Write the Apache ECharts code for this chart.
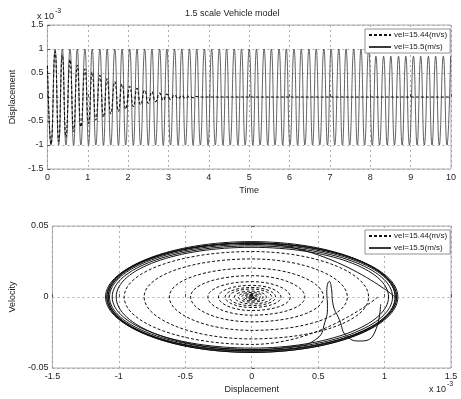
<!DOCTYPE html>
<html>
<head>
<meta charset="utf-8">
<script src="https://cdn.jsdelivr.net/npm/echarts@6/dist/echarts.min.js"></script>
<style>
  html, body { margin: 0; padding: 0; background: #fff; }
  #chart { width: 461px; height: 399px; }
</style>
</head>
<body>
<div id="chart"></div>
<script>
// top panel: times of the turning points (s), displacement in units of 1e-3
const tTop = [
  0.00, 0.09, 0.19, 0.28, 0.37, 0.46, 0.56, 0.65, 0.74, 0.83,
  0.93, 1.02, 1.11, 1.20, 1.30, 1.39, 1.48, 1.57, 1.67, 1.76,
  1.85, 1.94, 2.04, 2.13, 2.22, 2.31, 2.41, 2.50, 2.59, 2.68,
  2.78, 2.87, 2.96, 3.05, 3.15, 3.24, 3.33, 3.42, 3.52, 3.61,
  3.70, 3.79, 3.89, 3.98, 4.07, 4.16, 4.26, 4.35, 4.44, 4.53,
  4.63, 4.72, 4.81, 4.90, 5.00, 5.09, 5.18, 5.27, 5.37, 5.46,
  5.55, 5.64, 5.74, 5.83, 5.92, 6.01, 6.11, 6.20, 6.29, 6.38,
  6.48, 6.57, 6.66, 6.75, 6.85, 6.94, 7.03, 7.12, 7.22, 7.31,
  7.40, 7.49, 7.59, 7.68, 7.77, 7.86, 7.96, 8.05, 8.14, 8.23,
  8.33, 8.42, 8.51, 8.60, 8.70, 8.79, 8.88, 8.97, 9.07, 9.16,
  9.25, 9.34, 9.44, 9.53, 9.62, 9.71, 9.81, 9.90, 9.99
];
// vel=15.5 : sustained oscillation
const dispSolid = [
  0.65,
  -1, 1, -1, 1, -1, 1, -1, 1, -1, 1,
  -1, 1, -1, 1, -1, 1, -1, 1, -1, 1,
  -1, 1, -1, 1, -1, 1, -1, 1, -1, 1,
  -1, 1, -1, 1, -1, 1, -1, 1, -1, 1,
  -1, 1, -1, 1, -1, 1, -1, 1, -1, 1,
  -1, 1, -1, 1, -1, 1, -1, 1, -1, 1,
  -1, 1, -1, 1, -1, 1, -1, 1, -1, 1,
  -1, 1, -1, 1, -1, 1, -1, 1, -1, 1,
  -1, 1, -1, 1, -1, 1,
  -1, 0.85, -1, 0.85, -1, 0.85, -1, 0.85, -1, 0.85, -1,
  0.85, -1, 0.85, -1, 0.85, -1, 0.85, -1, 0.85, -1, 0.85
];
// vel=15.44 : decaying oscillation, then flat at 0
const dispDash = [
  0.65, -0.98, 0.95, -0.92, 0.88, -0.84, 0.78, -0.72, 0.66, -0.62,
  0.58, -0.55, 0.52, -0.48, 0.45, -0.42, 0.38, -0.35, 0.32, -0.30,
  0.27, -0.25, 0.22, -0.20, 0.18, -0.16, 0.14, -0.13, 0.11, -0.10,
  0.08, -0.07, 0.06, -0.05, 0.04, -0.035, 0.03, -0.025, 0.02, -0.015,
  0.01, 0
];

// bottom panel: phase plane, displacement (1e-3) and velocity
const phaseSolidX = [
  0.97, 0.93, 0.82, 0.72, 0.66, 0.61, 0.60, 0.585, 0.565, 0.57,
  0.55, 0.48, 0.30, 0,
  -1.02, 0, 1.03, 0, -1.05, 0, 1.06, 0, -1.07, 0, 1.08, 0,
  -1.08, 0, 1.09, 0, -1.09, 0, 1.08, 0, -1.10, 0, 1.09, 0,
  -1.08, 0, 1.10, 0, -1.09, 0, 1.08
];
const phaseSolidV = [
  -0.005, -0.024, -0.031, -0.028, -0.016, -0.004, 0.006, 0.011, 0.004, -0.006,
  -0.018, -0.030, -0.035, -0.037,
  0, 0.035, 0, -0.036, 0, 0.036, 0, -0.037, 0, 0.037, 0, -0.038,
  0, 0.038, 0, -0.038, 0, 0.039, 0, -0.038, 0, 0.038, 0, -0.039,
  0, 0.038, 0, -0.039, 0, 0.038, 0
];
const phaseDashX = [
  0.95, 0, -0.96, 0, 0.88, 0, -0.81, 0, 0.72, 0, -0.62, 0, 0.54, 0,
  -0.46, 0, 0.40, 0, -0.33, 0, 0.29, 0, -0.25, 0, 0.22, 0, -0.20, 0,
  0.18, 0, -0.17, 0, 0.15, 0, -0.13, 0, 0.11, 0, -0.10, 0, 0.085, 0,
  -0.075, 0, 0.065, 0, -0.055, 0, 0.045, 0, -0.04, 0, 0.035, 0,
  -0.03, 0, 0.025, 0, -0.02, 0, 0.016, 0, -0.012, 0, 0.01, 0,
  -0.008, 0, 0.005, 0, -0.003, 0, 0
];
const phaseDashV = [
  0, -0.0334, 0, 0.032, 0, -0.0295, 0, 0.0268, 0, -0.0235, 0, 0.0203, 0, -0.0175,
  0, 0.015, 0, -0.0128, 0, 0.0108, 0, -0.0095, 0, 0.0082, 0, -0.0074, 0, 0.0067,
  0, -0.0061, 0, 0.0056, 0, -0.0049, 0, 0.0042, 0, -0.0037, 0, 0.0032, 0, -0.0028,
  0, 0.0024, 0, -0.0021, 0, 0.0018, 0, -0.0015, 0, 0.0013, 0,
  -0.0011, 0, 0.001, 0, -0.0008, 0, 0.0006, 0, -0.0005, 0, 0.0004, 0,
  -0.0003, 0, 0.0002, 0, -0.0001, 0, 0.00005, 0
];

const names = ["vel=15.44(m/s)", "vel=15.5(m/s)"];
const font = "Liberation Sans, Arial, sans-serif";

const chart = echarts.init(document.getElementById("chart"));

const gridLine = { show: true, lineStyle: { color: "#8c8c8c", type: [2, 3], width: 0.7 } };
const tick = { show: true, inside: true, length: 3, lineStyle: { color: "#555" } };
const label = { fontSize: 9, color: "#222", fontFamily: font, margin: 4 };
const axisName = { fontSize: 9, color: "#222", fontFamily: font };

const dashTopData = dispDash.map((v, i) => [tTop[i], v]);
dashTopData.push([tTop[tTop.length - 1], 0]);

function legendOf(top) {
  return {
    data: names,
    orient: "vertical",
    left: 365,
    top: top,
    itemWidth: 22,
    itemHeight: 8,
    itemGap: 4,
    padding: [2, 3, 2, 3],
    borderColor: "#777",
    borderWidth: 0.8,
    borderRadius: 0,
    backgroundColor: "#fff",
    itemStyle: { opacity: 0 },
    textStyle: { fontSize: 8, color: "#222", fontFamily: font, padding: [0, 0, 0, -2] },
    selectedMode: false,
    z: 10
  };
}

chart.setOption({
  animation: false,
  backgroundColor: "#fff",
  grid: [
    { left: 36, top: 25, width: 415, height: 144, show: true, borderColor: "#9a9a9a", borderWidth: 0.8 },
    { left: 36, top: 226, width: 415, height: 142, show: true, borderColor: "#9a9a9a", borderWidth: 0.8 }
  ],
  legend: [legendOf(29), legendOf(230)],
  graphic: [
    { type: "text", left: 243 - 58, top: 9, style: { text: "1.5 scale Vehicle model", fontSize: 9, fill: "#222", fontFamily: font } },
    { type: "text", left: 37, top: 12, style: { text: "x 10", fontSize: 9, fill: "#222", fontFamily: font } },
    { type: "text", left: 55, top: 8, style: { text: "-3", fontSize: 7, fill: "#222", fontFamily: font } },
    { type: "text", left: 429, top: 385, style: { text: "x 10", fontSize: 9, fill: "#222", fontFamily: font } },
    { type: "text", left: 447, top: 381, style: { text: "-3", fontSize: 7, fill: "#222", fontFamily: font } }
  ],
  xAxis: [
    {
      gridIndex: 0, type: "value", min: 0, max: 10, interval: 1,
      name: "Time", nameLocation: "middle", nameGap: 17, nameTextStyle: axisName,
      axisLine: { show: false }, axisTick: tick, axisLabel: label, splitLine: gridLine
    },
    {
      gridIndex: 1, type: "value", min: -1.5, max: 1.5, interval: 0.5,
      name: "Displacement", nameLocation: "middle", nameGap: 17, nameTextStyle: axisName,
      axisLine: { show: false }, axisTick: tick, axisLabel: label, splitLine: gridLine
    }
  ],
  yAxis: [
    {
      gridIndex: 0, type: "value", min: -1.5, max: 1.5, interval: 0.5,
      name: "Displacement", nameLocation: "middle", nameGap: 21, nameTextStyle: axisName,
      axisLine: { show: false }, axisTick: tick, axisLabel: label, splitLine: gridLine
    },
    {
      gridIndex: 1, type: "value", min: -0.05, max: 0.05, interval: 0.05,
      name: "Velocity", nameLocation: "middle", nameGap: 24, nameTextStyle: axisName,
      axisLine: { show: false }, axisTick: tick, axisLabel: label, splitLine: gridLine
    }
  ],
  series: [
    {
      name: names[1], type: "line", xAxisIndex: 0, yAxisIndex: 0,
      data: dispSolid.map((v, i) => [tTop[i], v]),
      smooth: 0.5, symbol: "none",
      lineStyle: { color: "#3a3a3a", width: 0.8, type: "solid" }, itemStyle: { color: "#3a3a3a" }
    },
    {
      name: names[0], type: "line", xAxisIndex: 0, yAxisIndex: 0,
      data: dashTopData,
      smooth: 0.5, symbol: "none",
      lineStyle: { color: "#111", width: 1.1, type: [3, 2] }, itemStyle: { color: "#111" }
    },
    {
      name: names[1], type: "line", xAxisIndex: 1, yAxisIndex: 1,
      data: phaseSolidX.map((x, i) => [x, phaseSolidV[i]]),
      smooth: 0.55, symbol: "none",
      lineStyle: { color: "#111", width: 1, type: "solid" }, itemStyle: { color: "#111" }
    },
    {
      name: names[0], type: "line", xAxisIndex: 1, yAxisIndex: 1,
      data: phaseDashX.map((x, i) => [x, phaseDashV[i]]),
      smooth: 0.55, symbol: "none",
      lineStyle: { color: "#111", width: 1, type: [3, 2] }, itemStyle: { color: "#111" }
    }
  ]
});
</script>
</body>
</html>
